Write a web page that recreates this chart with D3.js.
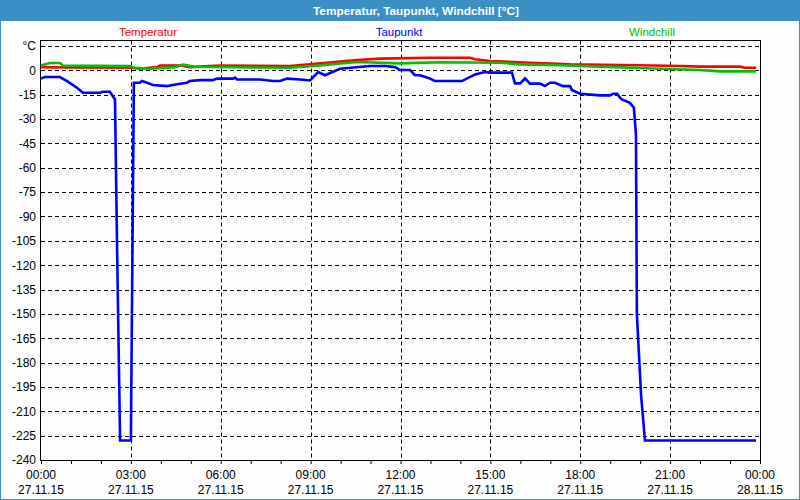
<!DOCTYPE html>
<html>
<head>
<meta charset="utf-8">
<script src="https://cdn.jsdelivr.net/npm/d3@7"></script>
<style>
  html, body { margin: 0; padding: 0; background: #fcfdfc; }
  svg { display: block; }
</style>
</head>
<body>
<script>
// ---------- DATA ----------
const title = "Temperatur, Taupunkt, Windchill [°C]";
const seriesNames = ["Temperatur", "Taupunkt", "Windchill"];
const seriesColors = ["#ff0000", "#0000ff", "#00c000"];

// hours since 27.11.15 00:00
const tempTimes = [0, 0.73, 2.97, 3.30, 3.87, 3.97, 4.64, 4.97, 5.97, 8.31, 10.55, 11.32, 12.98, 14.32, 14.49, 14.99, 16.32, 16.82, 17.66, 19.99, 21.33, 21.99, 23.33, 23.50, 23.87];
const tempValues = [2.0, 1.8, 1.6, 1.0, 2.0, 3.0, 3.0, 2.0, 3.0, 2.7, 6.4, 7.2, 7.8, 7.8, 6.8, 5.7, 4.7, 4.3, 3.7, 3.1, 2.7, 2.3, 2.3, 1.6, 1.6];

const dewTimes = [0, 0.13, 0.63, 0.87, 1.20, 1.40, 1.97, 2.07, 2.30, 2.47, 2.54, 2.64, 3.00, 3.10, 3.30, 3.37, 3.54, 3.74, 4.21, 4.54, 4.87, 4.97, 5.31, 5.74, 5.87, 6.41, 6.48, 6.54, 7.31, 7.74, 7.98, 8.21, 8.65, 8.98, 9.25, 9.48, 9.98, 10.98, 11.48, 11.82, 11.98, 12.32, 12.48, 12.65, 12.98, 13.15, 14.05, 14.49, 14.82, 14.99, 15.72, 15.82, 15.99, 16.16, 16.32, 16.66, 16.82, 16.99, 17.16, 17.42, 17.66, 17.72, 17.99, 18.66, 18.99, 19.09, 19.23, 19.33, 19.39, 19.66, 19.79, 19.86, 19.89, 20.03, 20.16, 23.87];
const dewValues = [-5.0, -4.1, -4.1, -6.6, -10.7, -13.8, -13.8, -13.2, -13.2, -17.9, -110, -228, -228, -7.6, -7.6, -6.6, -7.6, -9.0, -9.7, -8.6, -7.6, -6.6, -6.0, -6.0, -5.1, -5.1, -4.5, -5.6, -5.6, -6.6, -6.6, -5.1, -5.6, -6.2, -1.0, -3.0, 1.0, 2.7, 2.7, 2.0, 0.2, 0.2, -3.0, -3.0, -5.0, -6.6, -6.6, -2.5, -1.0, -1.4, -1.4, -8.0, -8.0, -5.0, -8.2, -8.2, -9.7, -7.6, -7.6, -9.7, -9.7, -12.1, -14.4, -15.4, -15.4, -14.4, -14.4, -16.9, -17.9, -20.0, -23.0, -40.0, -150, -200, -228, -228];

const chillTimes = [0, 0.30, 0.63, 0.73, 2.97, 3.14, 3.64, 4.14, 4.47, 4.74, 5.14, 6.98, 8.31, 9.31, 10.55, 11.98, 13.32, 15.32, 15.99, 17.32, 18.66, 20.66, 21.99, 22.66, 23.87];
const chillValues = [3.0, 4.5, 4.5, 3.0, 2.6, 1.5, 1.0, 1.5, 2.0, 3.5, 2.2, 1.8, 1.6, 3.0, 5.1, 4.3, 5.0, 4.7, 3.7, 3.1, 2.3, 1.0, 0.2, -0.6, -0.6];

const yTickValues = [15, 0, -15, -30, -45, -60, -75, -90, -105, -120, -135, -150, -165, -180, -195, -210, -225, -240];
const yTickLabels = ["°C", "0", "-15", "-30", "-45", "-60", "-75", "-90", "-105", "-120", "-135", "-150", "-165", "-180", "-195", "-210", "-225", "-240"];
const xTickValues = [0, 3, 6, 9, 12, 15, 18, 21, 24];
const xTimeLabels = ["00:00", "03:00", "06:00", "09:00", "12:00", "15:00", "18:00", "21:00", "00:00"];
const xDateLabels = ["27.11.15", "27.11.15", "27.11.15", "27.11.15", "27.11.15", "27.11.15", "27.11.15", "27.11.15", "28.11.15"];
const xMinorTicks = d3.range(0, 25, 1);

// ---------- CHART ----------
const W = 800, H = 500;
const plotLeft = 40.5, plotRight = 760.5, plotTop = 40.5, plotBottom = 460.5;
const font = "'Liberation Sans', Arial, sans-serif";

const svg = d3.select("body").append("svg").attr("width", W).attr("height", H);

// background + border
svg.append("rect").attr("x", 0).attr("y", 0).attr("width", W).attr("height", H).attr("fill", "#fcfdfc");
svg.append("rect").attr("x", 0.5).attr("y", 0.5).attr("width", W - 1).attr("height", H - 1)
  .attr("fill", "none").attr("stroke", "#3c8fc5").attr("stroke-width", 1);
svg.append("rect").attr("x", 0).attr("y", 0).attr("width", W).attr("height", 21).attr("fill", "#3c8fc5");
svg.append("text").attr("x", 416).attr("y", 15).attr("text-anchor", "middle")
  .attr("font-family", font).attr("font-weight", "bold").attr("font-size", 11.5)
  .attr("textLength", 206).attr("lengthAdjust", "spacingAndGlyphs")
  .attr("fill", "#ffffff").text(title);

// legend
const legendX = [148, 399, 652];
seriesNames.forEach((n, i) => {
  svg.append("text").attr("x", legendX[i]).attr("y", 36).attr("text-anchor", "middle")
    .attr("font-family", font).attr("font-size", 11.5).attr("fill", seriesColors[i]).text(n);
});

const x = d3.scaleLinear().domain([0, 24]).range([41, 760]);
const y = d3.scaleLinear().domain([-240, 15]).range([460, 46]);

// horizontal grid
const grid = svg.append("g");
yTickValues.forEach(v => {
  grid.append("line").attr("x1", 41).attr("x2", 760)
    .attr("y1", Math.round(y(v)) + 0.5).attr("y2", Math.round(y(v)) + 0.5)
    .attr("stroke", "#000").attr("stroke-dasharray", "4,3");
});
// vertical grid
xTickValues.slice(1, -1).forEach(t => {
  grid.append("line").attr("y1", plotTop).attr("y2", plotBottom)
    .attr("x1", Math.round(x(t)) + 0.5).attr("x2", Math.round(x(t)) + 0.5)
    .attr("stroke", "#000").attr("stroke-dasharray", "4,3");
});

// frame
svg.append("rect").attr("x", plotLeft).attr("y", plotTop).attr("width", plotRight - plotLeft).attr("height", plotBottom - plotTop)
  .attr("fill", "none").attr("stroke", "#000").attr("stroke-width", 1);

// y axis labels
const yAxis = d3.axisLeft(y).tickValues(yTickValues).tickSize(0).tickPadding(5)
  .tickFormat((d, i) => yTickLabels[i]);
const gy = svg.append("g").attr("transform", "translate(41,0)").call(yAxis);
gy.select(".domain").remove();
gy.selectAll("text").attr("font-family", font).attr("font-size", 12).attr("fill", "#000");

// x axis minor ticks
const xAxis = d3.axisBottom(x).tickValues(xMinorTicks).tickSize(4).tickFormat("");
const gx = svg.append("g").attr("transform", "translate(0,460)").call(xAxis);
gx.select(".domain").remove();
gx.selectAll("line").attr("stroke", "#000");

// x labels
xTickValues.forEach((t, i) => {
  svg.append("text").attr("x", x(t)).attr("y", 479).attr("text-anchor", "middle")
    .attr("font-family", font).attr("font-size", 12).attr("fill", "#000").text(xTimeLabels[i]);
  svg.append("text").attr("x", x(t)).attr("y", 494).attr("text-anchor", "middle")
    .attr("font-family", font).attr("font-size", 12).attr("fill", "#000").text(xDateLabels[i]);
});

// lines
const line = d3.line().x(d => x(d[0])).y(d => y(d[1])).curve(d3.curveLinear);
const series = [
  { t: tempTimes, v: tempValues, c: seriesColors[0] },
  { t: chillTimes, v: chillValues, c: seriesColors[2] },
  { t: dewTimes, v: dewValues, c: seriesColors[1] }
];
series.forEach(s => {
  const pts = s.t.map((t, i) => [t, s.v[i]]);
  svg.append("path").datum(pts).attr("d", line).attr("fill", "none")
    .attr("stroke", s.c).attr("stroke-width", 2.6).attr("stroke-linejoin", "miter");
});
</script>
</body>
</html>
